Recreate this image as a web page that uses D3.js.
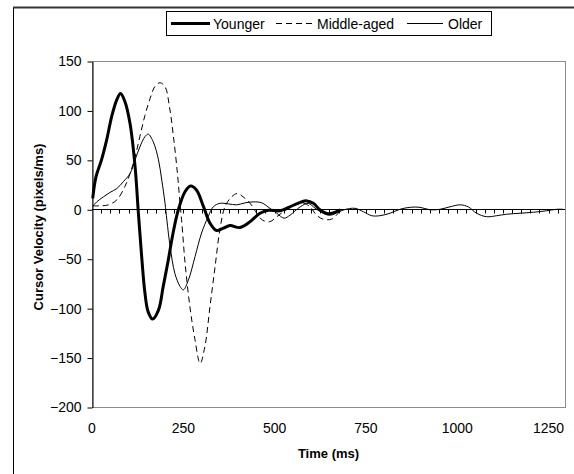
<!DOCTYPE html>
<html>
<head>
<meta charset="utf-8">
<script src="https://cdn.jsdelivr.net/npm/d3@7"></script>
<style>
    body { margin: 0; background: #fff; }
    svg text { font-family: "Liberation Sans", Arial, sans-serif; fill: #000; }
</style>
</head>
<body>
<div id="chart"></div>
<script>
// values (time in ms, velocity in pixels/ms)
const youngerTime = [2, 11, 26, 40, 54, 68, 78, 90, 104, 118, 127, 136, 145, 154, 166, 182, 195, 209, 222, 236,
    255, 270, 286, 305, 323, 341, 360, 378, 405, 433, 460, 483, 515, 542, 570, 588, 606, 624, 645, 662, 680];
const youngerVel = [11, 33, 50, 70, 94, 111, 117, 109, 87, 43, -4, -48, -85, -104, -111, -102, -78, -51, -24, -1,
    18, 23.5, 19.5, 3, -14, -21.5, -19, -16.5, -18.5, -12.5, -4, -1, -1.5, 2.5, 7, 8.5, 6, -0.5, -4.5, -3.5, -0.5];

const middleTime = [2, 22, 45, 68, 90, 104, 118, 131, 145, 159, 172, 186, 200, 212, 223, 234, 241, 246, 255, 268,
    282, 296, 309, 323, 337, 350, 364, 382, 398, 414, 433, 451, 467, 487, 506, 524, 551, 579, 597, 615,
    633, 656, 674, 680];
const middleVel = [3.5, 3.5, 4.5, 9.5, 23, 36, 53, 73.5, 95, 112, 124, 128, 124, 104, 73.5, 36, 6, -14, -55, -98.5,
    -132, -156, -139, -98.5, -58, -21, 2.5, 12.5, 16, 12.5, 6, -4, -11, -12.5, -7.5, -2.5, 3.5, 6, 2.5, -6,
    -10, -10, -4, -1];

const olderTime = [2, 13, 31, 49, 68, 86, 104, 118, 131, 145, 154, 168, 182, 191, 200, 205, 214, 227, 241, 250,
    264, 282, 300, 318, 332, 350, 373, 396, 419, 442, 465, 487, 506, 526, 542, 570, 592, 611, 633, 652,
    674, 690, 720, 743, 766, 788, 816, 843, 871, 898, 925, 953, 980, 1008, 1030, 1053, 1080, 1108, 1135, 1172,
    1208, 1245, 1272, 1290];
const olderVel = [3, 7.5, 12.5, 17, 21, 28, 36, 50, 63, 73.5, 76, 68, 50, 29.5, 6, -11, -38, -65, -78, -81.5,
    -71.5, -48, -24, -7.5, 2.5, 6, 5.5, 4.5, 6.5, 7.5, 6.5, 1, -4, -9, -6, 2.5, 6, 1, -4, -6,
    -3, -0.5, 1, -2.5, -6.5, -6.5, -4, 0, 2, 2, -0.5, 0, 2.5, 4.5, 2.5, -4, -7.5, -6.5, -5, -4,
    -3, -1.5, 0, 0];

const seriesNames = ['Younger', 'Middle-aged', 'Older'];
const xTicks = [0, 250, 500, 750, 1000, 1250];
const yTicks = [-200, -150, -100, -50, 0, 50, 100, 150];
const categoryStep = 25; // small ticks along the zero line

const width = 574, height = 474;
const plot = { left: 92, right: 565, top: 61, bottom: 407 };

const styles = {
    'Younger': { width: 3, dash: null },
    'Middle-aged': { width: 1, dash: '6,4' },
    'Older': { width: 1, dash: null }
};

const series = [
    { name: 'Older', values: olderTime.map((t, i) => ({ t: t, v: olderVel[i] })) },
    { name: 'Middle-aged', values: middleTime.map((t, i) => ({ t: t, v: middleVel[i] })) },
    { name: 'Younger', values: youngerTime.map((t, i) => ({ t: t, v: youngerVel[i] })) }
];

const svg = d3.select('#chart').append('svg')
    .attr('width', width)
    .attr('height', height);

// outer chart frame (cut off at right and bottom)
svg.append('rect')
    .attr('x', 13.5).attr('y', 7.5)
    .attr('width', 600).attr('height', 500)
    .attr('fill', 'none')
    .attr('stroke', '#000');
svg.append('line')
    .attr('x1', 13).attr('x2', 574).attr('y1', 7.5).attr('y2', 7.5)
    .attr('stroke', '#333').attr('stroke-width', 2);

const x = d3.scaleLinear().domain([0, 1295]).range([plot.left, plot.right]);
const y = d3.scaleLinear().domain([-200, 150]).range([plot.bottom, plot.top]);

// plot area border
svg.append('rect')
    .attr('x', plot.left + 0.5).attr('y', plot.top + 0.5)
    .attr('width', plot.right - plot.left).attr('height', plot.bottom - plot.top)
    .attr('fill', 'none')
    .attr('stroke', '#8c8c8c');

// y axis
const yAxis = svg.append('g')
    .attr('transform', `translate(${plot.left + 0.5},0.5)`)
    .call(d3.axisLeft(y).tickValues(yTicks).tickSize(5).tickPadding(6).tickSizeOuter(0));
yAxis.select('.domain').attr('stroke', '#000');
yAxis.selectAll('text').attr('font-size', '14px').style('font-family', '"Liberation Sans", Arial, sans-serif');

// x labels, no tick marks at the bottom
svg.append('g')
    .selectAll('text')
    .data(xTicks)
    .enter().append('text')
    .attr('x', d => x(d))
    .attr('y', 433)
    .attr('text-anchor', 'middle')
    .attr('font-size', '14px')
    .text(d => d);

// zero line with category ticks
const zeroY = Math.round(y(0)) + 0.5;
svg.append('line')
    .attr('x1', plot.left).attr('x2', plot.right)
    .attr('y1', zeroY).attr('y2', zeroY)
    .attr('stroke', '#000');
svg.append('g')
    .selectAll('line')
    .data(d3.range(categoryStep, 1295, categoryStep))
    .enter().append('line')
    .attr('x1', d => Math.round(x(d)) + 0.5)
    .attr('x2', d => Math.round(x(d)) + 0.5)
    .attr('y1', zeroY).attr('y2', zeroY + 4)
    .attr('stroke', '#000');

// series
const line = d3.line()
    .x(d => x(d.t))
    .y(d => y(d.v))
    .curve(d3.curveCatmullRom.alpha(0.5));

svg.append('g')
    .selectAll('path')
    .data(series)
    .enter().append('path')
    .attr('d', d => line(d.values))
    .attr('fill', 'none')
    .attr('stroke', '#000')
    .attr('stroke-width', d => styles[d.name].width)
    .attr('stroke-dasharray', d => styles[d.name].dash)
    .attr('stroke-linejoin', 'round');

// axis titles
svg.append('text')
    .attr('x', (plot.left + plot.right) / 2)
    .attr('y', 458)
    .attr('text-anchor', 'middle')
    .attr('font-size', '13px')
    .attr('font-weight', 'bold')
    .text('Time (ms)');

svg.append('text')
    .attr('transform', 'translate(43,227) rotate(-90)')
    .attr('text-anchor', 'middle')
    .attr('font-size', '13px')
    .attr('font-weight', 'bold')
    .text('Cursor Velocity (pixels/ms)');

// legend
const legend = svg.append('g');
legend.append('rect')
    .attr('x', 166.5).attr('y', 11.5)
    .attr('width', 325).attr('height', 24)
    .attr('fill', '#fff')
    .attr('stroke', '#000');

const legendItems = [
    { name: seriesNames[0], x1: 171, x2: 210, tx: 213 },
    { name: seriesNames[1], x1: 276, x2: 316, tx: 317 },
    { name: seriesNames[2], x1: 407, x2: 443, tx: 448 }
];

legend.selectAll('line')
    .data(legendItems)
    .enter().append('line')
    .attr('x1', d => d.x1).attr('x2', d => d.x2)
    .attr('y1', 23.5).attr('y2', 23.5)
    .attr('stroke', '#000')
    .attr('stroke-width', d => styles[d.name].width)
    .attr('stroke-dasharray', d => styles[d.name].dash);

legend.selectAll('text')
    .data(legendItems)
    .enter().append('text')
    .attr('x', d => d.tx)
    .attr('y', 28.5)
    .attr('font-size', '14px')
    .text(d => d.name);
</script>
</body>
</html>
